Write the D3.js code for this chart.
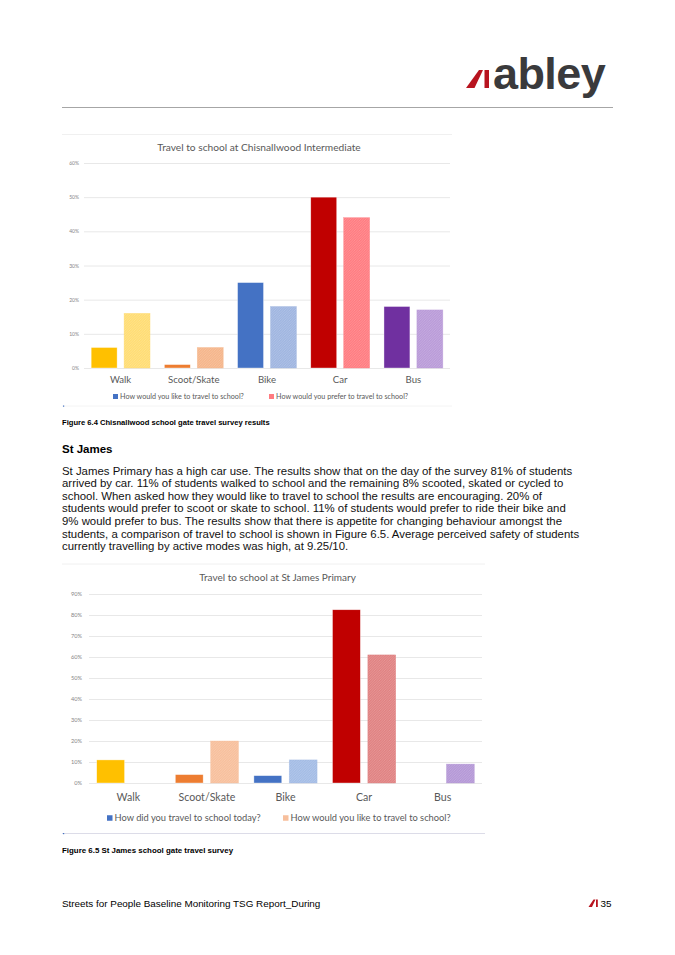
<!DOCTYPE html>
<html>
<head>
<meta charset="utf-8">
<script src="https://cdn.jsdelivr.net/npm/d3@7"></script>
<style>
    body { margin: 0; background: #fff; }
    svg { display: block; }
</style>
</head>
<body>
<svg id="page" width="675" height="955"></svg>
<script>
const categories = ["Walk", "Scoot/Skate", "Bike", "Car", "Bus"];

// Figure 6.4 - Chisnallwood Intermediate (percent of students)
const chisLikeValues = [6, 1, 25, 50, 18];
const chisPreferValues = [16, 6, 18, 44, 17];
const chisTicks = [0, 10, 20, 30, 40, 50, 60];
const chisSeriesNames = ["How would you like to travel to school?", "How would you prefer to travel to school?"];

// Figure 6.5 - St James Primary (percent of students)
const jamesTodayValues = [11, 4, 3.5, 82.5, 0];
const jamesLikeValues = [0, 20, 11, 61, 9];
const jamesTicks = [0, 10, 20, 30, 40, 50, 60, 70, 80, 90];
const jamesSeriesNames = ["How did you travel to school today?", "How would you like to travel to school?"];

const solidColours = ["#ffc000", "#ed7d31", "#4472c4", "#c00000", "#7030a0"];
const chisLightColours = ["#ffdc73", "#f5b58a", "#9fb5e0", "#ff7b80", "#b99ad8"];
const jamesLightColours = ["#ffdc73", "#f7bf9c", "#a3bce5", "#e08181", "#b497d6"];

const paragraphLines = [
    "St James Primary has a high car use. The results show that on the day of the survey 81% of students",
    "arrived by car. 11% of students walked to school and the remaining 8% scooted, skated or cycled to",
    "school. When asked how they would like to travel to school the results are encouraging. 20% of",
    "students would prefer to scoot or skate to school. 11% of students would prefer to ride their bike and",
    "9% would prefer to bus. The results show that there is appetite for changing behaviour amongst the",
    "students, a comparison of travel to school is shown in Figure 6.5. Average perceived safety of students",
    "currently travelling by active modes was high, at 9.25/10."
];

const svg = d3.select("#page");
const defs = svg.append("defs");
const pageFont = "'Liberation Sans', Arial, sans-serif";
const chartFont = "Lato, 'Open Sans', sans-serif";
const logoRed = "#b8141f";

// light bars in the report have a fine hatch texture
function patternFor(colour) {
    const id = "hatch-" + colour.slice(1);
    if (!defs.select("#" + id).empty()) return `url(#${id})`;
    const p = defs.append("pattern")
        .attr("id", id)
        .attr("patternUnits", "userSpaceOnUse")
        .attr("width", 2.5)
        .attr("height", 2.5);
    p.append("rect").attr("width", 2.5).attr("height", 2.5).attr("fill", colour);
    p.append("path")
        .attr("d", "M0,2.5 L2.5,0")
        .attr("stroke", "#fff")
        .attr("stroke-opacity", 0.3)
        .attr("stroke-width", 0.6);
    return `url(#${id})`;
}

function drawHeader() {
    svg.append("polygon")
        .attr("points", "466,88 474.5,88 483,70 479,70")
        .attr("fill", logoRed);
    svg.append("rect")
        .attr("x", 484.5).attr("y", 70)
        .attr("width", 4.5).attr("height", 18)
        .attr("fill", logoRed);

    svg.append("text")
        .attr("x", 493).attr("y", 89)
        .attr("font-family", pageFont)
        .attr("font-weight", 700)
        .attr("font-size", 45)
        .attr("letter-spacing", -0.6)
        .attr("fill", "#3a3a3c")
        .text("abley");

    svg.append("line")
        .attr("x1", 62).attr("x2", 613)
        .attr("y1", 107.5).attr("y2", 107.5)
        .attr("stroke", "#a6a6a6");
}

function drawBarChart(opts) {
    const g = svg.append("g");

    const x0 = d3.scaleBand()
        .domain(categories)
        .range([opts.left, opts.right])
        .paddingInner(0.196)
        .paddingOuter(0.098);

    const x1 = d3.scaleBand()
        .domain([0, 1])
        .range([0, x0.bandwidth()])
        .paddingInner(0.212);

    const y = d3.scaleLinear()
        .domain([0, d3.max(opts.ticks)])
        .range([opts.bottom, opts.top]);

    // frame
    g.append("line")
        .attr("x1", opts.frame[0]).attr("x2", opts.frame[2])
        .attr("y1", opts.frame[1]).attr("y2", opts.frame[1])
        .attr("stroke", "#f0f0f0");
    g.append("line")
        .attr("x1", opts.frame[0]).attr("x2", opts.frame[2])
        .attr("y1", opts.frame[3]).attr("y2", opts.frame[3])
        .attr("stroke", opts.frameBottomColour);

    g.append("text")
        .attr("x", (opts.left + opts.right) / 2 - 8)
        .attr("y", opts.titleY)
        .attr("text-anchor", "middle")
        .attr("font-family", chartFont)
        .attr("font-size", opts.titleSize)
        .attr("fill", "#595959")
        .text(opts.title);

    const yAxis = d3.axisLeft(y)
        .tickValues(opts.ticks)
        .tickFormat(d => d + "%")
        .tickSize(-(opts.right - opts.left))
        .tickPadding(opts.tickPadding);

    const yG = g.append("g")
        .attr("transform", `translate(${opts.left},0)`)
        .call(yAxis);
    yG.select(".domain").remove();
    yG.selectAll(".tick line").attr("stroke", "#e8e8e8");
    yG.selectAll(".tick text")
        .attr("font-family", chartFont)
        .attr("font-size", opts.tickSize)
        .attr("fill", "#858585");

    const xAxis = d3.axisBottom(x0).tickSize(0).tickPadding(0);
    const xG = g.append("g")
        .attr("transform", `translate(0,${opts.catY})`)
        .call(xAxis);
    xG.select(".domain").remove();
    xG.selectAll(".tick text")
        .attr("font-family", chartFont)
        .attr("font-size", opts.catSize)
        .attr("fill", "#595959");

    opts.series.forEach((s, si) => {
        g.append("g")
            .selectAll("rect")
            .data(s.values)
            .enter()
            .append("rect")
            .attr("x", (d, i) => x0(categories[i]) + x1(si))
            .attr("width", x1.bandwidth())
            .attr("y", d => y(d))
            .attr("height", d => y(0) - y(d))
            .attr("fill", (d, i) => s.patterned ? patternFor(s.colours[i]) : s.colours[i])
            .attr("stroke", (d, i) => s.patterned ? s.colours[i] : "#fff")
            .attr("stroke-opacity", 0.6)
            .attr("stroke-width", 0.6);
    });

    opts.series.forEach((s, si) => {
        const lx = opts.legendX[si];
        g.append("rect")
            .attr("x", lx)
            .attr("y", opts.legendY - opts.swatch / 2)
            .attr("width", opts.swatch)
            .attr("height", opts.swatch)
            .attr("fill", s.legendColour);
        g.append("text")
            .attr("x", lx + opts.swatch + 2)
            .attr("y", opts.legendY)
            .attr("dy", "0.35em")
            .attr("font-family", chartFont)
            .attr("font-size", opts.legendSize)
            .attr("fill", "#595959")
            .text(s.name);
    });

    g.append("rect")
        .attr("x", 63).attr("y", opts.frame[3] - 0.5)
        .attr("width", 1.2).attr("height", 1.2)
        .attr("fill", "#4472c4");
}

function drawText() {
    const bodyText = (x, yy, size, weight, str) => svg.append("text")
        .attr("x", x).attr("y", yy)
        .attr("font-family", pageFont)
        .attr("font-size", size)
        .attr("font-weight", weight)
        .attr("fill", "#000")
        .text(str);

    bodyText(62, 425, 7.6, 700, "Figure 6.4 Chisnallwood school gate travel survey results");
    bodyText(62, 453, 11.5, 700, "St James");

    const para = svg.append("text")
        .attr("font-family", pageFont)
        .attr("font-size", 11.4)
        .attr("fill", "#111");
    para.selectAll("tspan")
        .data(paragraphLines)
        .enter()
        .append("tspan")
        .attr("x", 62)
        .attr("y", (d, i) => 474.5 + i * 12.65)
        .text(d => d);

    bodyText(62, 853, 7.9, 700, "Figure 6.5 St James school gate travel survey");
    bodyText(62, 907, 9.9, 400, "Streets for People Baseline Monitoring TSG Report_During");

    svg.append("polygon")
        .attr("points", "588.5,907 592,907 595.5,899.5 593.5,899.5")
        .attr("fill", logoRed);
    svg.append("rect")
        .attr("x", 596).attr("y", 899.5).attr("width", 1.8).attr("height", 7.5)
        .attr("fill", logoRed);
    bodyText(600.5, 907, 9.9, 400, "35");
}

drawHeader();

drawBarChart({
    title: "Travel to school at Chisnallwood Intermediate",
    titleY: 151, titleSize: 10.2,
    left: 84, right: 450, top: 163, bottom: 368,
    frame: [62, 134.5, 452, 406],
    frameBottomColour: "#f4f4f4",
    ticks: chisTicks, tickSize: 5, tickPadding: 5,
    catY: 376, catSize: 9.6,
    legendY: 396.5, legendX: [113, 269], swatch: 5, legendSize: 7.2,
    series: [
        { name: chisSeriesNames[0], values: chisLikeValues, colours: solidColours, patterned: false, legendColour: "#4472c4" },
        { name: chisSeriesNames[1], values: chisPreferValues, colours: chisLightColours, patterned: true, legendColour: "#ff7b80" }
    ]
});

drawBarChart({
    title: "Travel to school at St James Primary",
    titleY: 581, titleSize: 10,
    left: 89, right: 482, top: 594, bottom: 783,
    frame: [62, 564, 485, 833.5],
    frameBottomColour: "#dcdce8",
    ticks: jamesTicks, tickSize: 5.6, tickPadding: 7,
    catY: 793, catSize: 10.6,
    legendY: 818, legendX: [107, 283], swatch: 5.5, legendSize: 9.3,
    series: [
        { name: jamesSeriesNames[0], values: jamesTodayValues, colours: solidColours, patterned: false, legendColour: "#4472c4" },
        { name: jamesSeriesNames[1], values: jamesLikeValues, colours: jamesLightColours, patterned: true, legendColour: "#f7bf9c" }
    ]
});

drawText();
</script>
</body>
</html>
